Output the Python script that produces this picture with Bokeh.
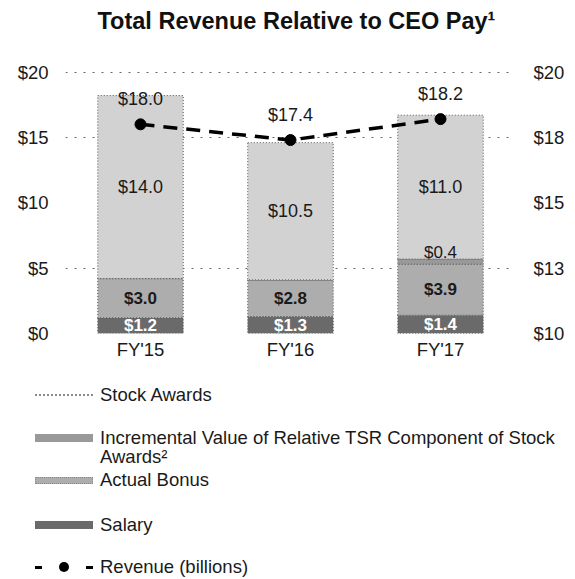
from bokeh.plotting import figure
from bokeh.models import (Range1d, LinearAxis, FixedTicker, CustomJSTickFormatter,
                          ColumnDataSource, LabelSet, Title, FactorRange, Div)
from bokeh.layouts import column
from bokeh.core.properties import value
from bokeh.embed import file_html
from bokeh.resources import INLINE

# ---------------- data ----------------
years = ["FY'15", "FY'16", "FY'17"]
salary = [1.2, 1.3, 1.4]
bonus = [3.0, 2.8, 3.9]
tsr_increment = [0.0, 0.0, 0.4]
stock_awards = [14.0, 10.5, 11.0]
revenue = [18.0, 17.4, 18.2]          # billions, right axis
left_ticks = [0, 5, 10, 15, 20]
right_ticks = [10, 12.5, 15, 17.5, 20]

title_text = "Total Revenue Relative to CEO Pay\u00b9"
legend_labels = ["Stock Awards",
                 "Incremental Value of Relative TSR Component of Stock<br>Awards\u00b2",
                 "Actual Bonus", "Salary", "Revenue (billions)"]

FONT = "Liberation Sans"
W = 575
H_MAIN = 372
H_LEG = 207

C_SAL = "#6a6a6a"
C_BON = "#adadad"
C_TSR = "#999999"
C_STK = "#d2d2d2"
TXT = "#1a1a1a"

# ---------------- main chart ----------------
p = figure(x_range=FactorRange(factors=years), y_range=Range1d(0, 20.5),
           width=W, height=H_MAIN, output_backend="svg", toolbar_location=None, title=None,
           min_border_left=65, min_border_right=60, min_border_top=65,
           min_border_bottom=H_MAIN - 333)
p.extra_y_ranges = {"rev": Range1d(10, 20.25)}

# titles (spacer first so the real title sits higher)
p.add_layout(Title(text=" ", text_font=FONT, text_font_size="20px", standoff=8), "above")
p.add_layout(Title(text=title_text, align="left", offset=32, text_font=FONT,
                   text_font_size="23.5px", text_font_style="bold",
                   text_color="#111111", standoff=0), "above")

src = ColumnDataSource(dict(
    year=years, salary=salary, bonus=bonus, tsr=tsr_increment, stock=stock_awards,
))
p.vbar_stack(["salary", "bonus", "tsr", "stock"], x="year", width=0.57, source=src,
             fill_color=[C_SAL, C_BON, C_TSR, C_STK],
             line_color="#555555", line_width=1, line_dash="1 2")

# segment labels
sal_mid = [s / 2 for s in salary]
bon_mid = [s + b / 2 for s, b in zip(salary, bonus)]
stk_mid = [s + b + t + k / 2 for s, b, t, k in zip(salary, bonus, tsr_increment, stock_awards)]
tsr_years = [y for y, t in zip(years, tsr_increment) if t > 0]
tsr_pos = [s + b + t + 0.5 for s, b, t in zip(salary, bonus, tsr_increment) if t > 0]
tsr_txt = ["$%.1f" % t for t in tsr_increment if t > 0]

p.text(x=years, y=sal_mid, text=["$%.1f" % v for v in salary], text_align="center",
       text_baseline="middle", text_font=value(FONT), text_font_size="17px",
       text_font_style="bold", text_color="white")
p.text(x=years, y=bon_mid, text=["$%.1f" % v for v in bonus], text_align="center",
       text_baseline="middle", text_font=value(FONT), text_font_size="17px",
       text_font_style="bold", text_color=TXT)
p.text(x=tsr_years, y=tsr_pos, text=tsr_txt, text_align="center",
       text_baseline="middle", text_font=value(FONT), text_font_size="17px",
       text_color=TXT)
p.text(x=years, y=stk_mid, text=["$%.1f" % v for v in stock_awards], text_align="center",
       text_baseline="middle", text_font=value(FONT), text_font_size="18px",
       text_color=TXT)

# revenue line (right axis)
rsrc = ColumnDataSource(dict(year=years, rev=revenue, lab=["$%.1f" % v for v in revenue]))
p.line("year", "rev", source=rsrc, y_range_name="rev", line_color="black",
       line_width=3.5, line_dash="14 9")
p.scatter("year", "rev", source=rsrc, y_range_name="rev", size=11,
          fill_color="black", line_color="black")
p.add_layout(LabelSet(x="year", y="rev", text="lab", source=rsrc, y_range_name="rev",
                      y_offset=15, text_align="center", text_baseline="bottom",
                      text_font=value(FONT), text_font_size="18px", text_color=TXT))

# axes
p.yaxis[0].ticker = FixedTicker(ticks=left_ticks)
p.yaxis[0].formatter = CustomJSTickFormatter(code="return '$' + tick;")
p.yaxis[0].major_label_standoff = 17
right_axis = LinearAxis(y_range_name="rev", ticker=FixedTicker(ticks=right_ticks),
                        formatter=CustomJSTickFormatter(code="return '$' + Math.round(tick);"),
                        major_label_standoff=18)
p.add_layout(right_axis, "right")
p.xaxis.major_label_standoff = 5

for ax in p.axis:
    ax.axis_line_color = None
    ax.major_tick_line_color = None
    ax.minor_tick_line_color = None
    ax.major_tick_out = 0
    ax.major_tick_in = 0
    ax.minor_tick_out = 0
    ax.major_label_text_font = FONT
    ax.major_label_text_font_size = "18.5px"
    ax.major_label_text_color = TXT

p.xgrid.visible = False
p.ygrid.ticker = FixedTicker(ticks=[5, 15, 20])
p.ygrid.grid_line_color = "#666666"
p.ygrid.grid_line_dash = "2 7"
p.ygrid.grid_line_width = 1
p.outline_line_color = None

# ---------------- legend (HTML block under the chart) ----------------
row_centers = [23, 66, 108, 153, 195]          # px from top of the legend block
swatches = [
    "border-top:2px dotted #8a8a8a;height:0;",
    "background:%s;height:8px;" % C_TSR,
    "background:%s;height:7px;border:1px dotted #888;box-sizing:border-box;" % C_BON,
    "background:%s;height:8px;" % C_SAL,
    None,
]
sw_h = [2, 8, 7, 8, 0]
parts = []
for lab, cy, sw, h in zip(legend_labels, row_centers, swatches, sw_h):
    if sw is not None:
        parts.append("<div style='position:absolute;left:35px;top:%dpx;width:58px;%s'></div>"
                     % (cy - h // 2, sw))
    else:
        parts.append("<div style='position:absolute;left:35px;top:%dpx;width:7px;height:3px;background:#000'></div>" % (cy - 1))
        parts.append("<div style='position:absolute;left:86px;top:%dpx;width:7px;height:3px;background:#000'></div>" % (cy - 1))
        parts.append("<div style='position:absolute;left:59px;top:%dpx;width:10px;height:10px;border-radius:5px;background:#000'></div>" % (cy - 5))
    parts.append("<div style='position:absolute;left:100px;top:%dpx;line-height:19px;white-space:nowrap'>%s</div>"
                 % (cy - 10, lab))
html = ("<div style=\"position:relative;width:%dpx;height:%dpx;font-family:'Liberation Sans';"
        "font-size:18.5px;color:%s\">%s</div>" % (W, H_LEG, TXT, "".join(parts)))
leg = Div(text=html, width=W, height=H_LEG, margin=(0, 0, 0, 0))

layout = column(p, leg, spacing=0)
open("out.html", "w").write(file_html(layout, INLINE))
